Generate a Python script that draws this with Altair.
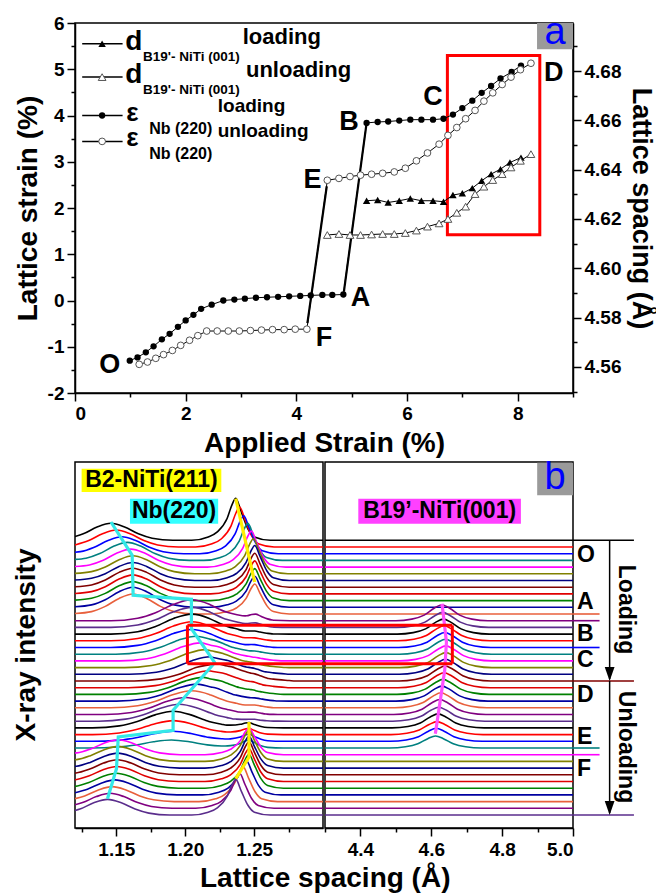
import altair as alt
import numpy as np
import pandas as pd

FONT = "Liberation Sans"

# ======================= Panel (a) data =======================
nb_load_x = [0.99, 1.13, 1.28, 1.42, 1.57, 1.71, 1.86, 2.00, 2.14, 2.28, 2.47, 2.68, 2.88, 3.07,
             3.27, 3.47, 3.67, 3.87, 4.07, 4.26, 4.47, 4.65, 4.85,
             5.27, 5.47, 5.66, 5.86, 6.06, 6.26, 6.47, 6.66, 6.83, 7.00, 7.18, 7.35, 7.52, 7.69, 7.89, 8.06]
nb_load_y = [-1.30, -1.23, -1.12, -0.99, -0.84, -0.72, -0.57, -0.43, -0.31, -0.18, -0.09, 0.00, 0.02, 0.04,
             0.06, 0.07, 0.08, 0.09, 0.10, 0.11, 0.12, 0.12, 0.13,
             3.84, 3.86, 3.87, 3.89, 3.91, 3.91, 3.91, 3.93, 4.02, 4.16, 4.32, 4.49, 4.64, 4.80, 4.94, 5.08]

nb_unl_x = [8.24, 8.05, 7.88, 7.72, 7.55, 7.39, 7.23, 7.06, 6.90, 6.74, 6.58, 6.37, 6.17, 5.97, 5.77,
            5.56, 5.36, 5.16, 4.97, 4.77, 4.56,
            4.19, 3.98, 3.78, 3.57, 3.37, 3.17, 2.97, 2.77, 2.57, 2.38, 2.22, 2.07, 1.91, 1.76, 1.60,
            1.46, 1.31, 1.16]
nb_unl_y = [5.13, 4.99, 4.83, 4.67, 4.49, 4.31, 4.11, 3.93, 3.74, 3.57, 3.38, 3.19, 3.02, 2.86, 2.78,
            2.75, 2.73, 2.71, 2.68, 2.64, 2.60,
            -0.62, -0.62, -0.63, -0.63, -0.64, -0.65, -0.66, -0.66, -0.66, -0.66, -0.76, -0.86, -0.97,
            -1.08, -1.17, -1.25, -1.33, -1.38]

b19_load_x = [5.27, 5.47, 5.66, 5.86, 6.06, 6.26, 6.47, 6.66, 6.83, 7.00, 7.18, 7.35, 7.52, 7.69, 7.86, 8.06]
b19_load_d = [4.6274, 4.6277, 4.6267, 4.6274, 4.6283, 4.6274, 4.6274, 4.6270, 4.6297, 4.6304, 4.6325,
              4.6355, 4.6382, 4.6402, 4.6429, 4.6449]

b19_unl_x = [8.24, 8.05, 7.88, 7.72, 7.55, 7.39, 7.23, 7.06, 6.90, 6.74, 6.58, 6.37, 6.17, 5.97, 5.77,
             5.56, 5.36, 5.16, 4.97, 4.77, 4.56]
b19_unl_d = [4.6463, 4.6436, 4.6409, 4.6382, 4.6358, 4.6331, 4.6301, 4.6250, 4.6225, 4.6200, 4.6182,
             4.6169, 4.6153, 4.6143, 4.6139, 4.6139, 4.6137, 4.6135, 4.6135, 4.6139, 4.6135]

guide_ab_x = [4.86, 5.27]
guide_ab_y = [0.19, 3.84]
guide_ef_x = [4.55, 4.20]
guide_ef_y = [2.47, -0.49]

pt_labels = ["O", "A", "B", "C", "D", "E", "F"]
pt_label_x = [0.63, 5.16, 4.95, 6.47, 8.65, 4.29, 4.50]
pt_label_y = [-1.39, 0.05, 3.87, 4.41, 4.92, 2.61, -0.82]

leg_row_y = [5.55, 4.83, 4.00, 3.44]
leg_main = ["d", "d", "ε", "ε"]
leg_sub = ["B19'- NiTi (001)", "B19'- NiTi (001)", "Nb (220)", "Nb (220)"]
leg_sup = ["loading", "unloading", "loading", "unloading"]

# ======================= Panel (b) data =======================
n_curves = 42
curve_step = 6.7
base_top = 287.7
base = [base_top - curve_step * k for k in range(n_curves)]

palette14 = ["#000000", "#FF0000", "#0000FF", "#008080", "#FF00FF", "#808000", "#000080",
             "#800000", "#E00000", "#008000", "#0000A0", "#E8603C", "#800080", "#5A2D8C"]

nb_pos = [1.146, 1.150, 1.154, 1.158, 1.1605, 1.162, 1.162, 1.162, 1.162, 1.162, 1.162, 1.162,
          1.2045, 1.2045, 1.2045, 1.2045, 1.2045, 1.208, 1.211, 1.2145, 1.218, 1.2215,
          1.2172, 1.213, 1.2087, 1.2045, 1.200, 1.1957, 1.1912, 1.1912, 1.1912, 1.190,
          1.1514, 1.1512, 1.151, 1.1507, 1.1504, 1.1501, 1.149, 1.147, 1.1455, 1.1436]
nb_h = [17, 17, 17, 18, 18, 18, 18, 19, 19, 19, 20, 20,
        21, 20, 20, 19, 18, 18, 18, 18, 17.5, 17.5,
        17, 17, 17, 17, 17, 17, 16.7, 14, 10, 8,
        15, 15, 15, 15, 15, 15, 15, 15, 15, 15.6]
nb_w = [1.0] * 12 + [1.3] * 20 + [1.0] * 10

b2_pos = [1.2367, 1.2395, 1.2425, 1.2455, 1.248, 1.2495, 1.2505, 1.2505, 1.2505, 1.2505, 1.2505, 1.2505,
          1.251, 1.251] + [1.2505] * 14 + [1.2463] * 10 + [1.2445, 1.2420, 1.2395, 1.2367]
b2_h = [42, 40, 38, 37, 36, 35, 35, 34, 33, 32, 31, 30,
        5, 3] + [1.5] * 14 + [5, 6, 7, 8, 27, 31, 32, 33, 33, 34, 34, 35, 35, 35.6]

m_pos = [None] * 12 + [4.630, 4.632, 4.634, 4.636, 4.638, 4.640, 4.641, 4.641, 4.640, 4.639,
                       4.636, 4.633, 4.630, 4.627, 4.624, 4.621, 4.619, 4.616, 4.614, 4.612] + [None] * 10
m_h = [0] * 12 + [16, 15, 15, 15, 15, 15, 15, 15, 15, 15,
                  15, 15, 15, 15, 15, 14, 14, 13, 13, 12] + [0] * 10

# peak shape templates (offset in Å, relative height)
nb_off = [-0.045, -0.03, -0.02, -0.01, 0.0, 0.01, 0.02, 0.03, 0.045]
nb_rel = [0.0, 0.12, 0.38, 0.78, 1.0, 0.78, 0.38, 0.12, 0.0]
b2_off = [-0.032, -0.02, -0.0134, -0.0063, -0.0027, 0.0, 0.0039, 0.0087, 0.0135, 0.025]
b2_rel = [0.0, 0.08, 0.2, 0.52, 0.85, 1.0, 0.68, 0.28, 0.08, 0.0]
m_off = [-0.13, -0.085, -0.05, -0.022, 0.0, 0.022, 0.05, 0.085, 0.13]
m_rel = [0.0, 0.1, 0.35, 0.78, 1.0, 0.78, 0.35, 0.1, 0.0]

cyan_x = [1.1461, 1.1615, 1.1622, 1.2045, 1.2045, 1.2214, 1.1912, 1.1912, 1.1514, 1.1501, 1.1436]
cyan_y = [306, 272.7, 232.7, 228.7, 199.3, 165.3, 117.7, 97.7, 91, 59.3, 29.3]
yel1_x = [1.2367, 1.2504]
yel1_y = [329.3, 246]
yel2_x = [1.2463, 1.2463, 1.2367]
yel2_y = [106, 71, 49.3]
mag_x = [4.6304, 4.6428, 4.6380, 4.6115]
mag_y = [224.3, 186, 158, 94.3]

stage_labels = ["O", "A", "B", "C", "D", "E", "F"]
stage_label_y = [272.7, 226, 194.3, 167.7, 132.7, 91, 59.3]
short_ext = [11, 12, 16, 31, 32]
long_ext = [0, 21, 41]

# ======================= build panel (a) =======================
xs_a = alt.Scale(domain=[0, 9], nice=False, zero=False)
yl_a = alt.Scale(domain=[-2, 6], nice=False, zero=False)
yr_a = alt.Scale(domain=[4.5494, 4.6995], nice=False, zero=False)

x_axis_a = alt.Axis(values=[0, 2, 4, 6, 8], title="Applied Strain (%)", tickSize=8, orient="bottom",
                    labelPadding=3, titlePadding=6)
x_minor_a = alt.Axis(values=[1, 3, 5, 7, 9], labels=False, tickSize=4, domain=False, title=None,
                     orient="bottom")
yl_axis = alt.Axis(values=list(range(-2, 7)), title="Lattice strain (%)", tickSize=8, orient="left",
                   labelExpr="'' + datum.value",
                   labelPadding=3, titlePadding=5, minExtent=28, maxExtent=28)
yl_minor = alt.Axis(values=[-1.5 + i for i in range(8)], labels=False, tickSize=4, domain=False, title=None,
                    orient="left")
yr_axis = alt.Axis(values=[round(4.56 + 0.02 * i, 2) for i in range(7)], title="Lattice spacing (Å)",
                   orient="right", format=".2f", tickSize=8, labelPadding=3, titlePadding=6,
                   titleFontSize=27)
yr_minor = alt.Axis(values=[round(4.55 + 0.02 * i, 2) for i in range(8)], orient="right", labels=False,
                    tickSize=4, domain=False, title=None)

df_nbl = pd.DataFrame({"x": nb_load_x, "y": nb_load_y})
df_nbu = pd.DataFrame({"x": nb_unl_x, "y": nb_unl_y})
df_bl = pd.DataFrame({"x": b19_load_x, "d": b19_load_d})
df_bu = pd.DataFrame({"x": b19_unl_x, "d": b19_unl_d})


def X(field="x", axis=None):
    return alt.X(f"{field}:Q", scale=xs_a, axis=axis)


def YL(field="y", axis=None):
    return alt.Y(f"{field}:Q", scale=yl_a, axis=axis)


red_box_a = alt.Chart(pd.DataFrame({"x": [6.73], "x2": [8.40], "y": [1.42], "y2": [5.30]})).mark_rect(
    fillOpacity=0, stroke="#FF0000", strokeWidth=3).encode(x=X(axis=x_axis_a), x2="x2", y=YL(axis=yl_axis), y2="y2")
minor_a = alt.Chart(df_nbl).mark_point(opacity=0).encode(x=X(axis=x_minor_a), y=YL(axis=yl_minor))
gray_a = alt.Chart(pd.DataFrame({"x": [8.35], "x2": [9.0], "y": [5.43], "y2": [6.0]})).mark_rect(
    color="#9A9A9A").encode(x=X(), x2="x2", y=YL(), y2="y2")
text_a = alt.Chart(pd.DataFrame({"x": [8.675], "y": [5.715], "t": ["a"]})).mark_text(
    font=FONT, fontSize=38, color="#0000FF", baseline="middle", dy=-3).encode(x=X(), y=YL(), text="t:N")

guides = alt.Chart(pd.DataFrame({"x": guide_ab_x + guide_ef_x, "y": guide_ab_y + guide_ef_y,
                                 "g": ["AB", "AB", "EF", "EF"]})).mark_line(
    color="black", strokeWidth=2.2).encode(x=X(), y=YL(), detail="g:N")

nbl_line = alt.Chart(df_nbl).mark_line(color="black", strokeWidth=1).encode(x=X(), y=YL())
nbu_line = alt.Chart(df_nbu).mark_line(color="black", strokeWidth=1).encode(x=X(), y=YL())
nbl_pts = alt.Chart(df_nbl).mark_point(shape="circle", filled=True, color="black", size=40, opacity=1).encode(
    x=X(), y=YL())
nbu_pts = alt.Chart(df_nbu).mark_point(shape="circle", filled=True, fill="white", stroke="#555555",
                                       strokeWidth=1, size=45, opacity=1).encode(x=X(), y=YL())

letters_a = alt.Chart(pd.DataFrame({"x": pt_label_x, "y": pt_label_y, "t": pt_labels})).mark_text(
    font=FONT, fontSize=27, fontWeight="bold", color="black", baseline="middle").encode(x=X(), y=YL(), text="t:N")

# legend
leg_lines = alt.Chart(pd.DataFrame({"x": [0.13] * 4, "x2": [0.86] * 4, "y": leg_row_y})).mark_rule(
    color="black", strokeWidth=1.5).encode(x=X(), x2="x2", y=YL())
leg_sym_df = pd.DataFrame({"x": [0.49] * 4, "y": leg_row_y, "r": [0, 1, 2, 3]})
leg_tri_f = alt.Chart(leg_sym_df[leg_sym_df.r == 0]).mark_point(
    shape="triangle-up", filled=True, color="black", size=55, opacity=1).encode(x=X(), y=YL())
leg_tri_o = alt.Chart(leg_sym_df[leg_sym_df.r == 1]).mark_point(
    shape="triangle-up", filled=True, fill="white", stroke="#555555", strokeWidth=1, size=60, opacity=1).encode(
    x=X(), y=YL())
leg_cir_f = alt.Chart(leg_sym_df[leg_sym_df.r == 2]).mark_point(
    shape="circle", filled=True, color="black", size=40, opacity=1).encode(x=X(), y=YL())
leg_cir_o = alt.Chart(leg_sym_df[leg_sym_df.r == 3]).mark_point(
    shape="circle", filled=True, fill="white", stroke="#555555", strokeWidth=1, size=45, opacity=1).encode(
    x=X(), y=YL())

leg_df = pd.DataFrame({"y": leg_row_y, "main": leg_main, "sub": leg_sub, "sup": leg_sup,
                       "xm": [0.906, 0.906, 0.924, 0.924], "xs": [1.23, 1.23, 1.34, 1.34],
                       "xp": [3.03, 3.09, 2.58, 2.58]})
leg_d = alt.Chart(leg_df.iloc[:2]).mark_text(font=FONT, fontSize=28, fontWeight="bold", align="left",
                                               baseline="alphabetic", dy=6, color="black").encode(
    x=X("xm"), y=YL(), text="main:N")
leg_e = alt.Chart(leg_df.iloc[2:]).mark_text(font=FONT, fontSize=26, fontWeight="bold", align="left",
                                               baseline="alphabetic", dy=5, color="black").encode(
    x=X("xm"), y=YL(), text="main:N")
leg_sub12 = alt.Chart(leg_df.iloc[:2]).mark_text(font=FONT, fontSize=13.5, fontWeight="bold", align="left",
                                                   baseline="alphabetic", dy=17, color="black").encode(
    x=X("xs"), y=YL(), text="sub:N")
leg_sub34 = alt.Chart(leg_df.iloc[2:]).mark_text(font=FONT, fontSize=16, fontWeight="bold", align="left",
                                                   baseline="alphabetic", dy=18, color="black").encode(
    x=X("xs"), y=YL(), text="sub:N")
leg_sup12 = alt.Chart(leg_df.iloc[:2]).mark_text(font=FONT, fontSize=22, fontWeight="bold", align="left",
                                                  baseline="alphabetic", dy=0, color="black").encode(
    x=X("xp"), y=YL(), text="sup:N")
leg_sup34 = alt.Chart(leg_df.iloc[2:]).mark_text(font=FONT, fontSize=19, fontWeight="bold", align="left",
                                                  baseline="alphabetic", dy=-4, color="black").encode(
    x=X("xp"), y=YL(), text="sup:N")

left_group = alt.layer(red_box_a, minor_a, gray_a, text_a, guides, nbl_line, nbu_line, nbl_pts, nbu_pts,
                       letters_a, leg_lines, leg_tri_f, leg_tri_o, leg_cir_f, leg_cir_o, leg_d, leg_e,
                       leg_sub12, leg_sub34, leg_sup12, leg_sup34).resolve_axis(x="independent", y="independent")


def YR(axis=None):
    return alt.Y("d:Q", scale=yr_a, axis=axis)


bl_line = alt.Chart(df_bl).mark_line(color="black", strokeWidth=1).encode(x=X(), y=YR(yr_axis))
minor_r = alt.Chart(df_bl).mark_point(opacity=0).encode(x=X(), y=YR(yr_minor))
bu_line = alt.Chart(df_bu).mark_line(color="black", strokeWidth=1).encode(x=X(), y=YR())
bl_pts = alt.Chart(df_bl).mark_point(shape="triangle-up", filled=True, color="black", size=55, opacity=1).encode(
    x=X(), y=YR())
bu_pts = alt.Chart(df_bu).mark_point(shape="triangle-up", filled=True, fill="white", stroke="#555555",
                                     strokeWidth=1, size=60, opacity=1).encode(x=X(), y=YR())
right_group = alt.layer(bl_line, minor_r, bu_line, bl_pts, bu_pts).resolve_axis(y="independent")

top = alt.layer(left_group, right_group).resolve_scale(y="independent").properties(width=498, height=370)

# ======================= build panel (b) =======================
series_names = [f"c{k:02d}" for k in range(n_curves)]
series_colors = [palette14[k % 14] for k in range(n_curves)]

rows_l, rows_r = [], []
for k in range(n_curves):
    nbx = [nb_pos[k] + o * nb_w[k] for o in nb_off]
    b2x = [b2_pos[k] + o for o in b2_off]
    pts = set([1.12, 1.30] + nbx + b2x)
    for x in sorted(p for p in pts if 1.12 <= p <= 1.30):
        v = base[k] + nb_h[k] * float(np.interp(x, nbx, nb_rel, left=0, right=0)) \
            + b2_h[k] * float(np.interp(x, b2x, b2_rel, left=0, right=0))
        rows_l.append({"s": series_names[k], "x": x, "y": v})
    pts_r = [4.3, 5.0]
    if m_pos[k] is not None:
        mx = [m_pos[k] + o for o in m_off]
        pts_r = sorted(set(pts_r + mx))
        for x in pts_r:
            v = base[k] + m_h[k] * float(np.interp(x, mx, m_rel, left=0, right=0))
            rows_r.append({"s": series_names[k], "x": x, "y": v})
    else:
        for x in pts_r:
            rows_r.append({"s": series_names[k], "x": x, "y": base[k]})
df_l = pd.DataFrame(rows_l)
df_r = pd.DataFrame(rows_r)

yb = alt.Scale(domain=[0, 366], nice=False, zero=False)
xl = alt.Scale(domain=[1.12, 1.30], nice=False, zero=False)
xr = alt.Scale(domain=[4.3, 5.0], nice=False, zero=False)
col = alt.Color("s:N", scale=alt.Scale(domain=series_names, range=series_colors), legend=None)

xl_axis = alt.Axis(values=[1.15, 1.20, 1.25], title=None, format=".2f", tickSize=8, labelPadding=4,
                   orient="bottom")
xl_minor = alt.Axis(values=[1.125, 1.175, 1.225, 1.275], title=None, labels=False, tickSize=4, domain=False,
                    orient="bottom")
xr_axis = alt.Axis(values=[4.4, 4.6, 4.8, 5.0], title=None, format=".1f", tickSize=8, labelPadding=4,
                   orient="bottom")
xr_minor = alt.Axis(values=[4.3, 4.5, 4.7, 4.9], title=None, labels=False, tickSize=4, domain=False,
                    orient="bottom")


def XL(field="x", axis=None):
    return alt.X(f"{field}:Q", scale=xl, axis=axis)


def XR(field="x", axis=None):
    return alt.X(f"{field}:Q", scale=xr, axis=axis)


def YB(field="y", axis=None):
    return alt.Y(f"{field}:Q", scale=yb, axis=axis)


curves_l = alt.Chart(df_l).mark_line(interpolate="monotone", strokeWidth=1.6, clip=True).encode(
    x=XL(axis=xl_axis), y=YB(), color=col, detail="s:N")
minor_bl = alt.Chart(df_l).mark_point(opacity=0).encode(x=XL(axis=xl_minor), y=YB())
curves_r = alt.Chart(df_r).mark_line(interpolate="monotone", strokeWidth=1.6, clip=True).encode(
    x=XR(axis=xr_axis), y=YB(), color=col, detail="s:N")
minor_br = alt.Chart(df_r).mark_point(opacity=0).encode(x=XR(axis=xr_minor), y=YB())

ylab = alt.Chart(pd.DataFrame({"x": [1.0854], "y": [183], "t": ["X-ray intensity"]})).mark_text(
    font=FONT, fontSize=28, fontWeight="bold", color="black", angle=270, baseline="middle", align="center",
    clip=False).encode(x=XL(), y=YB(), text="t:N")

cyan_line = alt.Chart(pd.DataFrame({"x": cyan_x, "y": cyan_y, "o": range(len(cyan_x))})).mark_line(
    color="#33E8E8", strokeWidth=3.2).encode(x=XL(), y=YB(), order="o:Q")
yel_line = alt.Chart(pd.DataFrame({"x": yel1_x + yel2_x, "y": yel1_y + yel2_y,
                                   "g": ["a"] * 2 + ["b"] * 3, "o": range(5)})).mark_line(
    color="#FFEE00", strokeWidth=3.2).encode(x=XL(), y=YB(), detail="g:N", order="o:Q")
mag_line = alt.Chart(pd.DataFrame({"x": mag_x, "y": mag_y, "o": range(len(mag_x))})).mark_line(
    color="#FF50FF", strokeWidth=3.2).encode(x=XR(), y=YB(), order="o:Q")

box_l = alt.Chart(pd.DataFrame({"x": [1.1248, 1.1599], "x2": [1.2262, 1.2239], "y": [336, 304.3],
                                "y2": [359.3, 329.3], "c": ["#FFFF00", "#33FFFF"]})).mark_rect().encode(
    x=XL(), x2="x2", y=YB(), y2="y2", color=alt.Color("c:N", scale=None))
box_l_text = alt.Chart(pd.DataFrame({"x": [1.1755, 1.1919], "y": [347.7, 316.8],
                                     "t": ["B2-NiTi(211)", "Nb(220)"]})).mark_text(
    font=FONT, fontSize=23, fontWeight="bold", color="black", baseline="middle").encode(
    x=XL(), y=YB(), text="t:N")

red_l = alt.Chart(pd.DataFrame({"x": [1.2016, 1.2016, 1.2016], "x2": [1.3015, 1.3015, 1.2016],
                                "y": [202.7, 164.3, 164.3], "y2": [202.7, 164.3, 202.7]})).mark_rule(
    color="#FF0000", strokeWidth=3, clip=False).encode(x=XL(), x2="x2", y=YB(), y2="y2")
red_r = alt.Chart(pd.DataFrame({"x": [4.2955, 4.2955, 4.6594], "x2": [4.6594, 4.6594, 4.6594],
                                "y": [202.7, 164.3, 164.3], "y2": [202.7, 164.3, 202.7]})).mark_rule(
    color="#FF0000", strokeWidth=3, clip=False).encode(x=XR(), x2="x2", y=YB(), y2="y2")

box_r = alt.Chart(pd.DataFrame({"x": [4.394, 4.8989], "x2": [4.853, 5.0], "y": [304.3, 332.7],
                                "y2": [329.3, 365.3], "c": ["#FF40FF", "#9A9A9A"]})).mark_rect().encode(
    x=XR(), x2="x2", y=YB(), y2="y2", color=alt.Color("c:N", scale=None))
box_r_text = alt.Chart(pd.DataFrame({"x": [4.6235], "y": [316.8], "t": ["B19’-NiTi(001)"]})).mark_text(
    font=FONT, fontSize=23, fontWeight="bold", color="black", baseline="middle").encode(
    x=XR(), y=YB(), text="t:N")
b_text = alt.Chart(pd.DataFrame({"x": [4.9494], "y": [349], "t": ["b"]})).mark_text(
    font=FONT, fontSize=38, color="#0000FF", baseline="middle", dy=-1).encode(x=XR(), y=YB(), text="t:N")

ext_rows = [{"x": 5.0, "x2": 5.075, "y": base[k], "c": series_colors[k]} for k in short_ext] + \
           [{"x": 5.0, "x2": 5.172, "y": base[k], "c": series_colors[k]} for k in long_ext]
ext_lines = alt.Chart(pd.DataFrame(ext_rows)).mark_rule(strokeWidth=1.6, clip=False).encode(
    x=XR(), x2="x2", y=YB(), color=alt.Color("c:N", scale=None))
arrow_lines = alt.Chart(pd.DataFrame({"x": [5.1034, 5.1034], "y": [base[0], base[21]],
                                      "y2": [base[21] + 2, base[41] + 2]})).mark_rule(
    color="black", strokeWidth=1.5, clip=False).encode(x=XR(), y=YB(), y2="y2")
arrow_heads = alt.Chart(pd.DataFrame({"x": [5.1034, 5.1034], "y": [base[21], base[41]]})).mark_point(
    shape="M-0.7,-2L0.7,-2L0,0Z", size=196, filled=True, color="black", opacity=1, clip=False).encode(
    x=XR(), y=YB())
stage_text = alt.Chart(pd.DataFrame({"x": [5.0] * 7, "y": stage_label_y, "t": stage_labels})).mark_text(
    font=FONT, fontSize=23, fontWeight="bold", color="black", align="left", baseline="middle", dx=4).encode(
    x=XR(), y=YB(), text="t:N")
dir_text = alt.Chart(pd.DataFrame({"x": [5.150, 5.150], "y": [218.5, 81], "t": ["Loading", "Unloading"]})).mark_text(
    font=FONT, fontSize=23, fontWeight="bold", color="black", angle=90, baseline="middle").encode(
    x=XR(), y=YB(), text="t:N")

panel_bl = alt.layer(curves_l, minor_bl, ylab, cyan_line, yel_line, box_l, box_l_text, red_l).resolve_axis(
    x="independent").properties(width=248, height=366)
panel_br = alt.layer(curves_r, minor_br, mag_line, box_r, box_r_text, b_text, red_r, ext_lines, arrow_lines,
                     arrow_heads, stage_text, dir_text).resolve_axis(x="independent").properties(width=248, height=366)

bottom = alt.hconcat(panel_bl, panel_br, spacing=2, bounds="flush").properties(
    title=alt.TitleParams("Lattice spacing (Å)", orient="bottom", anchor="middle", font=FONT,
                          fontSize=28, fontWeight="bold", color="black", offset=5))

chart = alt.vconcat(top, bottom, spacing=69, bounds="flush").properties(
    padding={"left": 4, "top": 5, "right": 0, "bottom": 0}
).configure_view(stroke="black", strokeWidth=1.5).configure_axis(
    grid=False, labelFont=FONT, labelFontSize=19, labelFontWeight="bold", labelColor="black",
    titleFont=FONT, titleFontSize=28, titleFontWeight="bold", titleColor="black",
    tickColor="black", domainColor="black", tickWidth=1.5, domainWidth=1.5)

chart.save("out.html", embed_options={"renderer": "svg", "actions": False})
